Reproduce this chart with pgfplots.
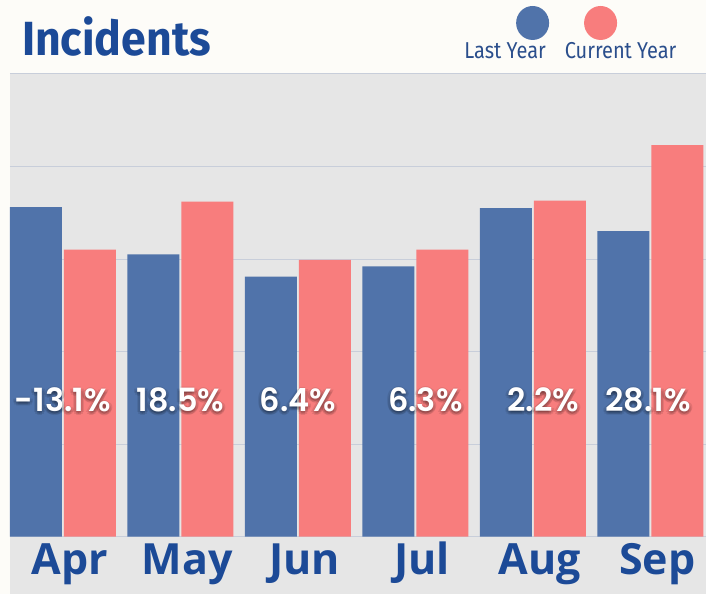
\documentclass[border=0pt]{standalone}
\usepackage{pgfplots}
\pgfplotsset{compat=1.18}
\usepackage{fontspec}
\setmainfont{Fira Sans}
\newfontfamily\condfont[FakeStretch=0.93]{Fira Sans}
\newfontfamily\legfont[FakeStretch=0.87]{Fira Sans}
\newfontfamily\monthfont{Open Sans}
\IfFontExistsTF{Poppins SemiBold}{\newfontfamily\pctfont[BoldFont={Poppins SemiBold}]{Poppins}}{\newfontfamily\pctfont{Poppins}}
\definecolor{lastblue}{RGB}{80,115,170}
\definecolor{curred}{RGB}{248,125,125}
\definecolor{plotbg}{RGB}{230,230,230}
\definecolor{gridcol}{RGB}{200,206,218}
\definecolor{pagebg}{RGB}{253,252,248}
\definecolor{titleblue}{RGB}{28,74,151}
\definecolor{legblue}{RGB}{42,78,140}
\tikzset{pctsh/.style={text=black, text opacity=0.09, font=\pctfont\bfseries\fontsize{32}{32}\selectfont}}
\newcommand{\pct}[2]{%
  \node[pctsh, xshift=0pt, yshift=-2pt] at (axis cs:#1,14.8) {#2};
  \node[pctsh, xshift=2pt, yshift=-3pt] at (axis cs:#1,14.8) {#2};
  \node[pctsh, xshift=-2pt, yshift=-3pt] at (axis cs:#1,14.8) {#2};
  \node[pctsh, xshift=0pt, yshift=-4.5pt] at (axis cs:#1,14.8) {#2};
  \node[pctsh, xshift=3pt, yshift=-1pt] at (axis cs:#1,14.8) {#2};
  \node[pctsh, xshift=-3pt, yshift=-1pt] at (axis cs:#1,14.8) {#2};
  \node[pctsh, xshift=0pt, yshift=1pt] at (axis cs:#1,14.8) {#2};
  \node[text=white, font=\pctfont\bfseries\fontsize{32}{32}\selectfont] at (axis cs:#1,14.8) {#2};}
\begin{document}
\begin{tikzpicture}[x=1pt,y=1pt]
\fill[pagebg] (0,0) rectangle (706,594);
\begin{axis}[
  at={(10pt,0pt)}, anchor=south west, scale only axis,
  width=696pt, height=520pt,
  xmin=-0.45, xmax=5.47, ymin=-6.16, ymax=50,
  axis background/.style={fill=plotbg},
  axis line style={draw=none},
  major tick length=0pt,
  ytick={0,10,20,30,40,50}, yticklabels={},
  ymajorgrids, grid style={gridcol, line width=1pt},
  xtick={0,1,2,3,4,5},
  xticklabels={Apr,May,Jun,Jul,Aug,Sep},
  xticklabel style={anchor=base, yshift=19pt, xshift=7pt, text=titleblue,
    font=\monthfont\bfseries\fontsize{43}{43}\selectfont},
  ybar, bar width=52pt,
]
\addplot[fill=lastblue, draw=none, bar shift=-27pt] coordinates {
  (0,35.6) (1,30.5) (2,28.1) (3,29.2) (4,35.5) (5,33.0)};
\addplot[fill=curred, draw=none, bar shift=27pt] coordinates {
  (0,31.0) (1,36.2) (2,29.9) (3,31.0) (4,36.3) (5,42.3)};
\pct{0}{-13.1\%}
\pct{1}{18.5\%}
\pct{2}{6.4\%}
\pct{3.085}{6.3\%}
\pct{4.09}{2.2\%}
\pct{4.98}{28.1\%}
\end{axis}
\node[anchor=base west, text=titleblue, inner sep=0pt,
  font=\condfont\bfseries\fontsize{48}{48}\selectfont] at (22,538) {Incidents};
\fill[lastblue] (533,571) ellipse (16.5 and 17);
\fill[curred] (601,571) ellipse (16.5 and 17);
\node[anchor=base, text=legblue, inner sep=0pt,
  font=\legfont\fontsize{23}{23}\selectfont] at (505.5,535) {Last Year};
\node[anchor=base, text=legblue, inner sep=0pt,
  font=\legfont\fontsize{23}{23}\selectfont] at (621,535) {Current Year};
\end{tikzpicture}
\end{document}
